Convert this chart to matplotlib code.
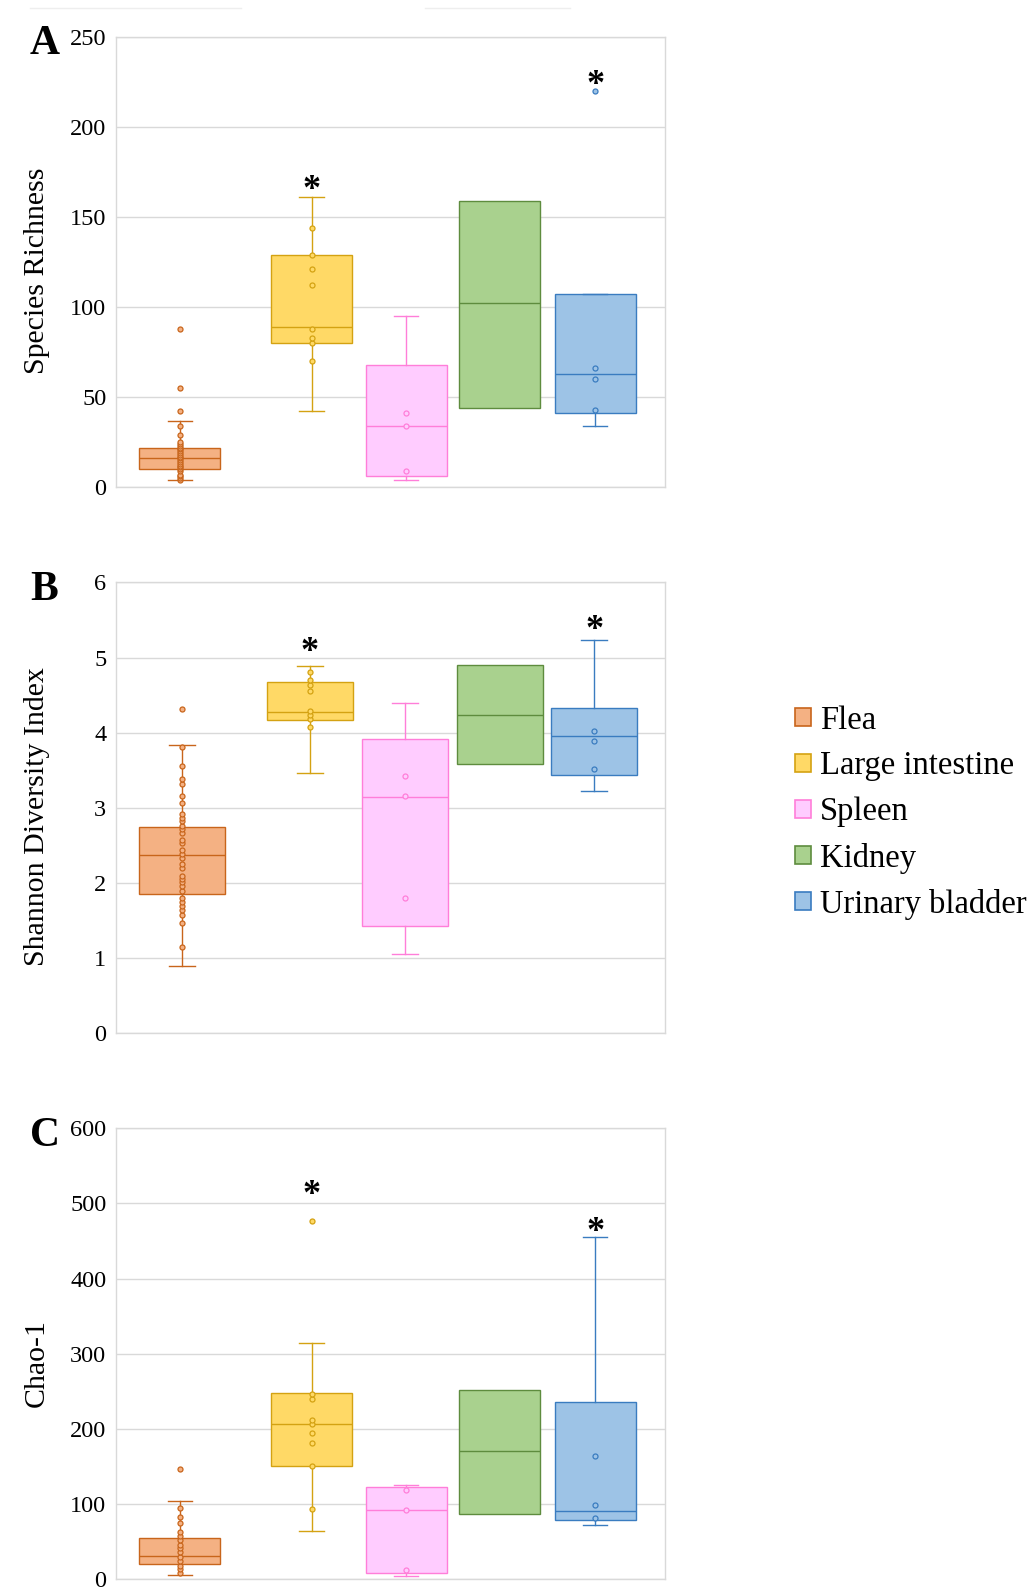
import matplotlib
matplotlib.use("Agg")
import matplotlib.pyplot as plt
from matplotlib.patches import Patch
from matplotlib.lines import Line2D

plt.rcParams['font.family'] = ['Liberation Serif', 'DejaVu Serif']

groups = ["Flea", "Large intestine", "Spleen", "Kidney", "Urinary bladder"]
fills = ["#F4B183", "#FFD966", "#FFCCFF", "#A9D18E", "#9DC3E6"]
edges = ["#C8651B", "#D4A212", "#FF7ED9", "#5E8C3E", "#3A7CC0"]

# --- A: species richness ---
rich_q1 = [10, 80, 6, 44, 41]
rich_med = [16, 89, 34, 102, 63]
rich_q3 = [22, 129, 68, 159, 107]
rich_lo = [4, 42, 4, 44, 34]
rich_hi = [37, 161, 95, 159, 107]
rich_pts = [
    [4, 5, 6, 7, 9, 10, 11, 12, 13, 14, 15, 16, 17, 18, 19, 20, 21, 22, 23, 24, 25, 29, 34, 42, 55, 88],
    [70, 80, 83, 88, 112, 121, 129, 144],
    [9, 34, 41],
    [],
    [43, 60, 66, 220],
]
rich_star = [None, 169, None, None, 227]

# --- B: Shannon diversity ---
shan_q1 = [1.85, 4.17, 1.42, 3.58, 3.44]
shan_med = [2.37, 4.28, 3.15, 4.24, 3.95]
shan_q3 = [2.75, 4.67, 3.91, 4.90, 4.33]
shan_lo = [0.90, 3.46, 1.05, 3.58, 3.22]
shan_hi = [3.84, 4.89, 4.40, 4.90, 5.24]
shan_pts = [
    [1.15, 1.46, 1.57, 1.64, 1.69, 1.75, 1.80, 1.89, 1.96, 2.01, 2.05, 2.09, 2.20, 2.25,
     2.33, 2.38, 2.44, 2.53, 2.57, 2.66, 2.72, 2.76, 2.82, 2.87, 2.92, 3.06, 3.16, 3.31,
     3.38, 3.55, 3.81, 4.31],
    [4.07, 4.18, 4.23, 4.29, 4.55, 4.64, 4.70, 4.81],
    [1.80, 3.16, 3.42],
    [],
    [3.51, 3.89, 4.02],
]
shan_star = [None, 5.18, None, None, 5.46]

# --- C: Chao-1 ---
chao_q1 = [20, 150, 8, 86, 79]
chao_med = [31, 207, 92, 170, 90]
chao_q3 = [55, 248, 122, 252, 236]
chao_lo = [5, 64, 4, 86, 72]
chao_hi = [104, 314, 125, 252, 455]
chao_pts = [
    [8, 13, 18, 24, 30, 36, 41, 46, 52, 57, 62, 74, 82, 94, 147],
    [93, 151, 181, 195, 207, 212, 240, 247, 477],
    [12, 92, 118],
    [],
    [81, 98, 164],
]
chao_star = [None, 521, None, None, 472]

pos_narrow = [0.675, 2.07, 3.07, 4.06, 5.07]
pos_wide = [0.70, 2.05, 3.06, 4.06, 5.06]

panels = [
    ("A", "Species Richness", rich_q1, rich_med, rich_q3, rich_lo, rich_hi, rich_pts, rich_star,
     [0, 50, 100, 150, 200, 250], 0.693, pos_narrow, 0.86),
    ("B", "Shannon Diversity Index", shan_q1, shan_med, shan_q3, shan_lo, shan_hi, shan_pts, shan_star,
     [0, 1, 2, 3, 4, 5, 6], 0.349, pos_wide, 0.91),
    ("C", "Chao-1", chao_q1, chao_med, chao_q3, chao_lo, chao_hi, chao_pts, chao_star,
     [0, 100, 200, 300, 400, 500, 600], 0.005, pos_narrow, 0.86),
]

fig = plt.figure(figsize=(10.36, 15.87), dpi=100)

for letter, label, q1, med, q3, lo, hi, pts, star, ticks, bottom, positions, box_w in panels:
    ax = fig.add_axes([0.112, bottom, 0.530, 0.284])
    for i in range(len(groups)):
        stats = [dict(q1=q1[i], med=med[i], q3=q3[i], whislo=lo[i], whishi=hi[i], fliers=[])]
        has_whisk = lo[i] < q1[i] or hi[i] > q3[i]
        ax.bxp(stats, positions=[positions[i]], widths=box_w, patch_artist=True,
               showfliers=False, showcaps=has_whisk, capwidths=box_w * 0.3,
               boxprops=dict(facecolor=fills[i], edgecolor=edges[i], linewidth=1.0),
               medianprops=dict(color=edges[i], linewidth=1.0),
               whiskerprops=dict(color=edges[i], linewidth=1.0),
               capprops=dict(color=edges[i], linewidth=1.0))
        if pts[i]:
            ax.plot([positions[i]] * len(pts[i]), pts[i], 'o', ms=3.6, mfc=fills[i],
                    mec=edges[i], mew=0.9, zorder=4)
        if star[i] is not None:
            # the asterisk glyph sits high in its box, so pull it down a little
            ax.annotate("*", xy=(positions[i], star[i]), xytext=(0, -8),
                        textcoords='offset pixels', ha='center', va='center',
                        fontsize=26, fontweight='bold', zorder=5)

    ax.set_xlim(0, 5.81)
    ax.set_ylim(ticks[0], ticks[-1])
    ax.set_yticks(ticks)
    ax.set_xticks([])
    ax.tick_params(axis='y', length=0, pad=7, labelsize=17.5)
    ax.grid(axis='y', color='#D9D9D9', linewidth=1.0)
    ax.set_axisbelow(True)
    for sp in ax.spines.values():
        sp.set_color('#D9D9D9')
        sp.set_linewidth(1.0)
    ax.set_ylabel(label, fontsize=21.5)
    ax.yaxis.set_label_coords(-0.12, 0.48)

    top_frac = bottom + 0.284
    fig.text(0.043, top_frac + 0.007, letter, fontsize=30, fontweight='bold',
             ha='center', va='top')

# faint stray rules along the top edge
fig.add_artist(Line2D([0.029, 0.233], [0.995, 0.995], color='#EEEEEE', lw=1.0))
fig.add_artist(Line2D([0.41, 0.55], [0.995, 0.995], color='#EEEEEE', lw=1.0))

handles = [Patch(facecolor=f, edgecolor=e, linewidth=1.2) for f, e in zip(fills, edges)]
fig.legend(handles, groups, loc='upper left', bbox_to_anchor=(0.752, 0.566),
           frameon=False, fontsize=23.5, handlelength=0.47, handleheight=0.47,
           handletextpad=0.28, labelspacing=0.47, borderpad=0)

fig.savefig("out.png", dpi=100, facecolor='white')
